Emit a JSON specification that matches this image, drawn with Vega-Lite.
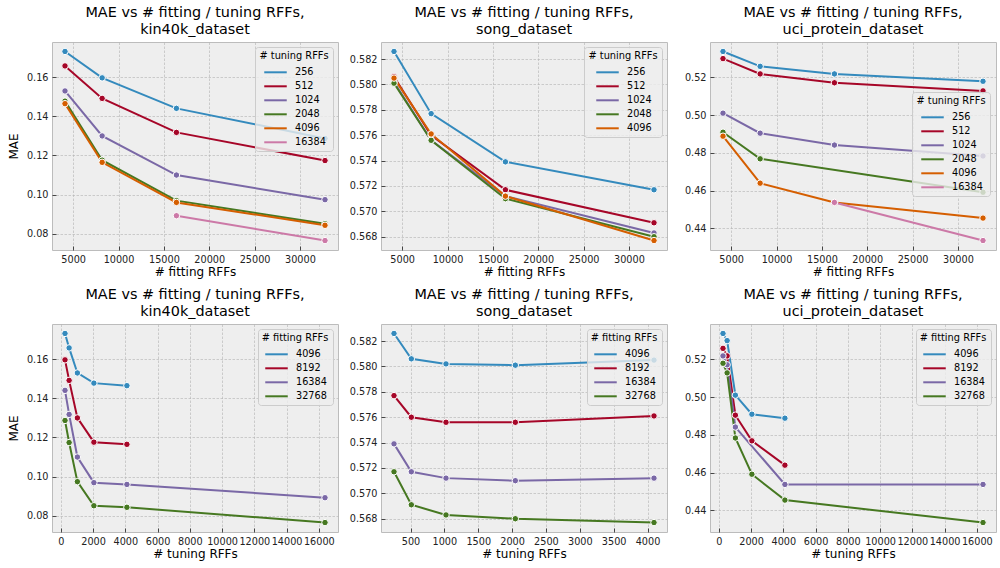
{
  "$schema": "https://vega.github.io/schema/vega-lite/v6.json",
  "background": "white",
  "padding": {"left": 6, "top": 4, "right": 0, "bottom": 8},
  "config": {
    "font": "DejaVu Sans",
    "view": {"fill": "#eeeeee", "stroke": "#bcbcbc", "strokeWidth": 1},
    "title": {"font": "DejaVu Sans", "fontSize": 14.4, "fontWeight": "normal", "color": "#000000", "offset": 5, "lineHeight": 17, "anchor": "middle", "frame": "group"},
    "axis": {
      "domain": false, "labelFont": "DejaVu Sans", "labelFontSize": 9.7, "labelColor": "#222222",
      "titleFont": "DejaVu Sans", "titleFontSize": 12, "titleFontWeight": "normal", "titleColor": "#000000",
      "tickSize": -4, "tickColor": "#222222", "tickWidth": 0.8,
      "gridColor": "#b2b2b2", "gridWidth": 0.6, "gridDash": [2.5, 1.5],
      "labelOverlap": false, "labelFlush": false
    },
    "axisX": {"labelPadding": 8, "titlePadding": 3},
    "axisY": {"labelPadding": 8, "titlePadding": 6},
    "legend": {
      "orient": "top-right", "offset": 5, "titleFont": "DejaVu Sans", "labelFont": "DejaVu Sans",
      "titleFontSize": 9.8, "titleFontWeight": "normal", "titleColor": "#000000", "labelFontSize": 9.7, "labelColor": "#000000",
      "symbolType": "M-1.5,0L1.5,0", "symbolStrokeWidth": 2, "symbolSize": 225, "symbolOffset": 4,
      "fillColor": "rgba(238,238,238,0.8)", "strokeColor": "#cccccc", "cornerRadius": 3,
      "padding": 4, "rowPadding": 0, "titleAnchor": "middle", "labelOffset": 11, "titlePadding": 3
    }
  },
  "datasets": {
    "d": [
      {"ds": "kin40k", "fit": 4096, "tune": 256, "mae": 0.1732},
      {"ds": "kin40k", "fit": 4096, "tune": 512, "mae": 0.1658},
      {"ds": "kin40k", "fit": 4096, "tune": 1024, "mae": 0.1530},
      {"ds": "kin40k", "fit": 4096, "tune": 2048, "mae": 0.1478},
      {"ds": "kin40k", "fit": 4096, "tune": 4096, "mae": 0.1465},
      {"ds": "kin40k", "fit": 8192, "tune": 256, "mae": 0.1597},
      {"ds": "kin40k", "fit": 8192, "tune": 512, "mae": 0.1492},
      {"ds": "kin40k", "fit": 8192, "tune": 1024, "mae": 0.1300},
      {"ds": "kin40k", "fit": 8192, "tune": 2048, "mae": 0.1176},
      {"ds": "kin40k", "fit": 8192, "tune": 4096, "mae": 0.1165},
      {"ds": "kin40k", "fit": 16384, "tune": 256, "mae": 0.1441},
      {"ds": "kin40k", "fit": 16384, "tune": 512, "mae": 0.1318},
      {"ds": "kin40k", "fit": 16384, "tune": 1024, "mae": 0.1100},
      {"ds": "kin40k", "fit": 16384, "tune": 2048, "mae": 0.0969},
      {"ds": "kin40k", "fit": 16384, "tune": 4096, "mae": 0.0960},
      {"ds": "kin40k", "fit": 16384, "tune": 16384, "mae": 0.0892},
      {"ds": "kin40k", "fit": 32768, "tune": 256, "mae": 0.1287},
      {"ds": "kin40k", "fit": 32768, "tune": 512, "mae": 0.1174},
      {"ds": "kin40k", "fit": 32768, "tune": 1024, "mae": 0.0974},
      {"ds": "kin40k", "fit": 32768, "tune": 2048, "mae": 0.0851},
      {"ds": "kin40k", "fit": 32768, "tune": 4096, "mae": 0.0843},
      {"ds": "kin40k", "fit": 32768, "tune": 16384, "mae": 0.0765},
      {"ds": "song", "fit": 4096, "tune": 256, "mae": 0.5826},
      {"ds": "song", "fit": 4096, "tune": 512, "mae": 0.5806},
      {"ds": "song", "fit": 4096, "tune": 1024, "mae": 0.5802},
      {"ds": "song", "fit": 4096, "tune": 2048, "mae": 0.5801},
      {"ds": "song", "fit": 4096, "tune": 4096, "mae": 0.5805},
      {"ds": "song", "fit": 8192, "tune": 256, "mae": 0.5777},
      {"ds": "song", "fit": 8192, "tune": 512, "mae": 0.5760},
      {"ds": "song", "fit": 8192, "tune": 1024, "mae": 0.5756},
      {"ds": "song", "fit": 8192, "tune": 2048, "mae": 0.5756},
      {"ds": "song", "fit": 8192, "tune": 4096, "mae": 0.5761},
      {"ds": "song", "fit": 16384, "tune": 256, "mae": 0.5739},
      {"ds": "song", "fit": 16384, "tune": 512, "mae": 0.5717},
      {"ds": "song", "fit": 16384, "tune": 1024, "mae": 0.5712},
      {"ds": "song", "fit": 16384, "tune": 2048, "mae": 0.5710},
      {"ds": "song", "fit": 16384, "tune": 4096, "mae": 0.5712},
      {"ds": "song", "fit": 32768, "tune": 256, "mae": 0.5717},
      {"ds": "song", "fit": 32768, "tune": 512, "mae": 0.5691},
      {"ds": "song", "fit": 32768, "tune": 1024, "mae": 0.5683},
      {"ds": "song", "fit": 32768, "tune": 2048, "mae": 0.5680},
      {"ds": "song", "fit": 32768, "tune": 4096, "mae": 0.5677},
      {"ds": "uci", "fit": 4096, "tune": 256, "mae": 0.5337},
      {"ds": "uci", "fit": 4096, "tune": 512, "mae": 0.5299},
      {"ds": "uci", "fit": 4096, "tune": 1024, "mae": 0.5010},
      {"ds": "uci", "fit": 4096, "tune": 2048, "mae": 0.4909},
      {"ds": "uci", "fit": 4096, "tune": 4096, "mae": 0.4888},
      {"ds": "uci", "fit": 8192, "tune": 256, "mae": 0.5258},
      {"ds": "uci", "fit": 8192, "tune": 512, "mae": 0.5218},
      {"ds": "uci", "fit": 8192, "tune": 1024, "mae": 0.4904},
      {"ds": "uci", "fit": 8192, "tune": 2048, "mae": 0.4768},
      {"ds": "uci", "fit": 8192, "tune": 4096, "mae": 0.4639},
      {"ds": "uci", "fit": 16384, "tune": 256, "mae": 0.5218},
      {"ds": "uci", "fit": 16384, "tune": 512, "mae": 0.5171},
      {"ds": "uci", "fit": 16384, "tune": 1024, "mae": 0.4841},
      {"ds": "uci", "fit": 16384, "tune": 4096, "mae": 0.4537},
      {"ds": "uci", "fit": 16384, "tune": 16384, "mae": 0.4537},
      {"ds": "uci", "fit": 32768, "tune": 256, "mae": 0.5179},
      {"ds": "uci", "fit": 32768, "tune": 512, "mae": 0.5128},
      {"ds": "uci", "fit": 32768, "tune": 1024, "mae": 0.4783},
      {"ds": "uci", "fit": 32768, "tune": 2048, "mae": 0.4591},
      {"ds": "uci", "fit": 32768, "tune": 4096, "mae": 0.4454},
      {"ds": "uci", "fit": 32768, "tune": 16384, "mae": 0.4335}
    ]
  },
  "columns": 3,
  "spacing": {"row": 74, "column": 43},
  "bounds": "flush",
  "resolve": {"scale": {"x": "independent", "y": "independent", "color": "independent"}, "legend": {"color": "independent"}},
  "concat": [
    {
      "title": {"text": ["MAE vs # fitting / tuning RFFs,", "kin40k_dataset"]},
      "width": 286, "height": 208,
      "data": {"name": "d"},
      "transform": [{"filter": "datum.ds === 'kin40k'"}],
      "encoding": {
        "x": {"field": "fit", "type": "quantitative", "scale": {"domain": [2662.4, 34201.6], "nice": false, "zero": false}, "axis": {"values": [5000, 10000, 15000, 20000, 25000, 30000], "format": "d", "title": "# fitting RFFs"}},
        "y": {"field": "mae", "type": "quantitative", "scale": {"domain": [0.071665, 0.178035], "nice": false, "zero": false}, "axis": {"values": [0.08, 0.10, 0.12, 0.14, 0.16], "format": ".2f", "title": "MAE"}}
      },
      "layer": [
        {"mark": {"type": "line", "strokeWidth": 2}, "encoding": {"color": {"field": "tune", "type": "nominal", "title": "# tuning RFFs", "legend": {"orient": "top-right", "offset": 5}, "scale": {"domain": [256, 512, 1024, 2048, 4096, 16384], "range": ["#348ABD", "#A60628", "#7A68A6", "#467821", "#D55E00", "#CC79A7"]}}}},
        {"mark": {"type": "point", "filled": true, "size": 42, "stroke": "white", "strokeWidth": 1, "opacity": 1}, "encoding": {"color": {"field": "tune", "type": "nominal", "legend": null, "scale": {"domain": [256, 512, 1024, 2048, 4096, 16384], "range": ["#348ABD", "#A60628", "#7A68A6", "#467821", "#D55E00", "#CC79A7"]}}}}
      ]
    },
    {
      "title": {"text": ["MAE vs # fitting / tuning RFFs,", "song_dataset"]},
      "width": 286, "height": 208,
      "data": {"name": "d"},
      "transform": [{"filter": "datum.ds === 'song'"}],
      "encoding": {
        "x": {"field": "fit", "type": "quantitative", "scale": {"domain": [2662.4, 34201.6], "nice": false, "zero": false}, "axis": {"values": [5000, 10000, 15000, 20000, 25000, 30000], "format": "d", "title": "# fitting RFFs"}},
        "y": {"field": "mae", "type": "quantitative", "scale": {"domain": [0.566955, 0.583345], "nice": false, "zero": false}, "axis": {"values": [0.568, 0.570, 0.572, 0.574, 0.576, 0.578, 0.580, 0.582], "format": ".3f", "title": null}}
      },
      "layer": [
        {"mark": {"type": "line", "strokeWidth": 2}, "encoding": {"color": {"field": "tune", "type": "nominal", "title": "# tuning RFFs", "legend": {"orient": "top-right", "offset": 5}, "scale": {"domain": [256, 512, 1024, 2048, 4096], "range": ["#348ABD", "#A60628", "#7A68A6", "#467821", "#D55E00"]}}}},
        {"mark": {"type": "point", "filled": true, "size": 42, "stroke": "white", "strokeWidth": 1, "opacity": 1}, "encoding": {"color": {"field": "tune", "type": "nominal", "legend": null, "scale": {"domain": [256, 512, 1024, 2048, 4096], "range": ["#348ABD", "#A60628", "#7A68A6", "#467821", "#D55E00"]}}}}
      ]
    },
    {
      "title": {"text": ["MAE vs # fitting / tuning RFFs,", "uci_protein_dataset"]},
      "width": 286, "height": 208,
      "data": {"name": "d"},
      "transform": [{"filter": "datum.ds === 'uci'"}],
      "encoding": {
        "x": {"field": "fit", "type": "quantitative", "scale": {"domain": [2662.4, 34201.6], "nice": false, "zero": false}, "axis": {"values": [5000, 10000, 15000, 20000, 25000, 30000], "format": "d", "title": "# fitting RFFs"}},
        "y": {"field": "mae", "type": "quantitative", "scale": {"domain": [0.42849, 0.53871], "nice": false, "zero": false}, "axis": {"values": [0.44, 0.46, 0.48, 0.50, 0.52], "format": ".2f", "title": null}}
      },
      "layer": [
        {"mark": {"type": "line", "strokeWidth": 2}, "encoding": {"color": {"field": "tune", "type": "nominal", "title": "# tuning RFFs", "legend": {"orient": "none", "legendX": 202, "legendY": 50}, "scale": {"domain": [256, 512, 1024, 2048, 4096, 16384], "range": ["#348ABD", "#A60628", "#7A68A6", "#467821", "#D55E00", "#CC79A7"]}}}},
        {"mark": {"type": "point", "filled": true, "size": 42, "stroke": "white", "strokeWidth": 1, "opacity": 1}, "encoding": {"color": {"field": "tune", "type": "nominal", "legend": null, "scale": {"domain": [256, 512, 1024, 2048, 4096, 16384], "range": ["#348ABD", "#A60628", "#7A68A6", "#467821", "#D55E00", "#CC79A7"]}}}}
      ]
    },
    {
      "title": {"text": ["MAE vs # fitting / tuning RFFs,", "kin40k_dataset"]},
      "width": 286, "height": 208,
      "data": {"name": "d"},
      "transform": [{"filter": "datum.ds === 'kin40k'"}],
      "encoding": {
        "x": {"field": "tune", "type": "quantitative", "scale": {"domain": [-550.4, 17190.4], "nice": false, "zero": false}, "axis": {"values": [0, 2000, 4000, 6000, 8000, 10000, 12000, 14000, 16000], "format": "d", "title": "# tuning RFFs"}},
        "y": {"field": "mae", "type": "quantitative", "scale": {"domain": [0.071665, 0.178035], "nice": false, "zero": false}, "axis": {"values": [0.08, 0.10, 0.12, 0.14, 0.16], "format": ".2f", "title": "MAE"}}
      },
      "layer": [
        {"mark": {"type": "line", "strokeWidth": 2}, "encoding": {"color": {"field": "fit", "type": "nominal", "title": "# fitting RFFs", "legend": {"orient": "top-right", "offset": 5}, "scale": {"domain": [4096, 8192, 16384, 32768], "range": ["#348ABD", "#A60628", "#7A68A6", "#467821"]}}}},
        {"mark": {"type": "point", "filled": true, "size": 42, "stroke": "white", "strokeWidth": 1, "opacity": 1}, "encoding": {"color": {"field": "fit", "type": "nominal", "legend": null, "scale": {"domain": [4096, 8192, 16384, 32768], "range": ["#348ABD", "#A60628", "#7A68A6", "#467821"]}}}}
      ]
    },
    {
      "title": {"text": ["MAE vs # fitting / tuning RFFs,", "song_dataset"]},
      "width": 286, "height": 208,
      "data": {"name": "d"},
      "transform": [{"filter": "datum.ds === 'song'"}],
      "encoding": {
        "x": {"field": "tune", "type": "quantitative", "scale": {"domain": [64, 4288], "nice": false, "zero": false}, "axis": {"values": [500, 1000, 1500, 2000, 2500, 3000, 3500, 4000], "format": "d", "title": "# tuning RFFs"}},
        "y": {"field": "mae", "type": "quantitative", "scale": {"domain": [0.566955, 0.583345], "nice": false, "zero": false}, "axis": {"values": [0.568, 0.570, 0.572, 0.574, 0.576, 0.578, 0.580, 0.582], "format": ".3f", "title": null}}
      },
      "layer": [
        {"mark": {"type": "line", "strokeWidth": 2}, "encoding": {"color": {"field": "fit", "type": "nominal", "title": "# fitting RFFs", "legend": {"orient": "top-right", "offset": 5}, "scale": {"domain": [4096, 8192, 16384, 32768], "range": ["#348ABD", "#A60628", "#7A68A6", "#467821"]}}}},
        {"mark": {"type": "point", "filled": true, "size": 42, "stroke": "white", "strokeWidth": 1, "opacity": 1}, "encoding": {"color": {"field": "fit", "type": "nominal", "legend": null, "scale": {"domain": [4096, 8192, 16384, 32768], "range": ["#348ABD", "#A60628", "#7A68A6", "#467821"]}}}}
      ]
    },
    {
      "title": {"text": ["MAE vs # fitting / tuning RFFs,", "uci_protein_dataset"]},
      "width": 286, "height": 208,
      "data": {"name": "d"},
      "transform": [{"filter": "datum.ds === 'uci'"}],
      "encoding": {
        "x": {"field": "tune", "type": "quantitative", "scale": {"domain": [-550.4, 17190.4], "nice": false, "zero": false}, "axis": {"values": [0, 2000, 4000, 6000, 8000, 10000, 12000, 14000, 16000], "format": "d", "title": "# tuning RFFs"}},
        "y": {"field": "mae", "type": "quantitative", "scale": {"domain": [0.42849, 0.53871], "nice": false, "zero": false}, "axis": {"values": [0.44, 0.46, 0.48, 0.50, 0.52], "format": ".2f", "title": null}}
      },
      "layer": [
        {"mark": {"type": "line", "strokeWidth": 2}, "encoding": {"color": {"field": "fit", "type": "nominal", "title": "# fitting RFFs", "legend": {"orient": "top-right", "offset": 5}, "scale": {"domain": [4096, 8192, 16384, 32768], "range": ["#348ABD", "#A60628", "#7A68A6", "#467821"]}}}},
        {"mark": {"type": "point", "filled": true, "size": 42, "stroke": "white", "strokeWidth": 1, "opacity": 1}, "encoding": {"color": {"field": "fit", "type": "nominal", "legend": null, "scale": {"domain": [4096, 8192, 16384, 32768], "range": ["#348ABD", "#A60628", "#7A68A6", "#467821"]}}}}
      ]
    }
  ]
}
